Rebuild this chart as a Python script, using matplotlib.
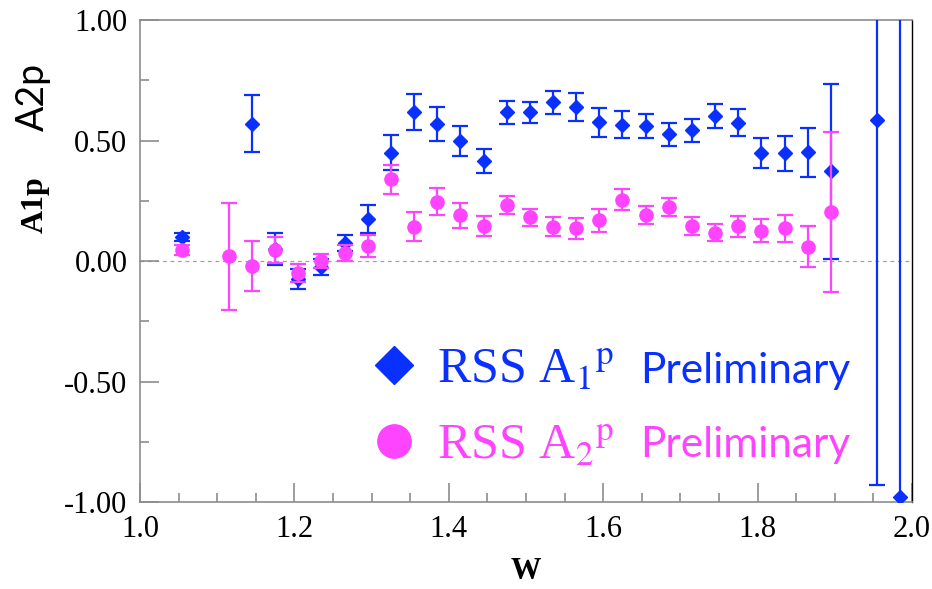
import matplotlib
matplotlib.use('Agg')
import matplotlib.pyplot as plt
from matplotlib.lines import Line2D
from matplotlib.ticker import MultipleLocator, FormatStrFormatter

# A1p points (blue diamonds)
w_a1 = [1.055, 1.145, 1.175, 1.205, 1.235, 1.265, 1.295, 1.325, 1.355, 1.385,
        1.415, 1.445, 1.475, 1.505, 1.535, 1.565, 1.595, 1.625, 1.655, 1.685,
        1.715, 1.745, 1.775, 1.805, 1.835, 1.865, 1.895, 1.955, 1.985]
a1 = [0.10, 0.57, 0.05, -0.075, -0.025, 0.075, 0.175, 0.45, 0.617, 0.57,
      0.497, 0.415, 0.617, 0.617, 0.658, 0.639, 0.576, 0.565, 0.56, 0.525,
      0.542, 0.601, 0.574, 0.45, 0.447, 0.451, 0.372, 0.585, -0.98]
a1_err = [0.015, 0.118, 0.068, 0.043, 0.035, 0.033, 0.058, 0.074, 0.074, 0.071,
          0.062, 0.05, 0.047, 0.043, 0.048, 0.058, 0.061, 0.056, 0.05, 0.047,
          0.049, 0.05, 0.056, 0.062, 0.072, 0.102, 0.362, 1.514, 2.5]

# A2p points (magenta circles)
w_a2 = [1.055, 1.115, 1.145, 1.175, 1.205, 1.235, 1.265, 1.295, 1.325, 1.355,
        1.385, 1.415, 1.445, 1.475, 1.505, 1.535, 1.565, 1.595, 1.625, 1.655,
        1.685, 1.715, 1.745, 1.775, 1.805, 1.835, 1.865, 1.895]
a2 = [0.045, 0.02, -0.02, 0.045, -0.05, 0.0, 0.033, 0.0625, 0.339, 0.143,
      0.246, 0.189, 0.146, 0.232, 0.181, 0.143, 0.135, 0.169, 0.255, 0.192,
      0.225, 0.147, 0.118, 0.144, 0.125, 0.136, 0.06, 0.204]
a2_err = [0.02, 0.222, 0.105, 0.055, 0.037, 0.03, 0.035, 0.047, 0.061, 0.06,
          0.057, 0.05, 0.041, 0.036, 0.035, 0.038, 0.045, 0.047, 0.044, 0.037,
          0.037, 0.0375, 0.037, 0.043, 0.048, 0.056, 0.086, 0.333]

BLUE = '#0a30ff'
PINK = '#ff44ff'
GREY = '#8c8c8c'

plt.rcParams['font.family'] = 'Liberation Serif'
plt.rcParams['axes.unicode_minus'] = False
plt.rcParams['mathtext.fontset'] = 'stix'

fig = plt.figure(figsize=(9.32, 5.89), dpi=100)
ax = fig.add_axes([0.1502, 0.1477, 0.8283, 0.8183])

ax.axhline(0, color='#a0a0a0', lw=0.9, ls=(0, (3, 3)), zorder=1)

ax.errorbar(w_a1, a1, yerr=a1_err, fmt='D', color=BLUE, ms=7.2,
            elinewidth=1.6, capsize=5.5, capthick=1.6, zorder=3)
ax.errorbar(w_a2, a2, yerr=a2_err, fmt='o', color=PINK, ms=9.5,
            elinewidth=1.6, capsize=5.5, capthick=1.6, zorder=4)

ax.set_xlim(1.0, 2.0)
ax.set_ylim(-1.0, 1.0)

ax.xaxis.set_major_locator(MultipleLocator(0.2))
ax.xaxis.set_minor_locator(MultipleLocator(0.05))
ax.yaxis.set_major_locator(MultipleLocator(0.5))
ax.yaxis.set_minor_locator(MultipleLocator(0.25))
ax.xaxis.set_major_formatter(FormatStrFormatter('%.1f'))
ax.yaxis.set_major_formatter(FormatStrFormatter('%.2f'))

ax.tick_params(which='both', direction='in', color=GREY, width=1.2,
               top=False, right=False, labelfontfamily='Liberation Serif')
ax.tick_params(which='major', length=14, labelsize=22, pad=9)
ax.tick_params(which='minor', length=6.5)

for side in ['left', 'bottom', 'top']:
    ax.spines[side].set_color(GREY)
    ax.spines[side].set_linewidth(1.2)
ax.spines['right'].set_color('black')
ax.spines['right'].set_linewidth(1.0)

ax.set_xlabel('W', fontweight='bold', fontsize=22, labelpad=10)

fig.text(0.035, 0.835, 'A2p', family='Lato', fontsize=27, rotation=90,
         ha='center', va='center')
fig.text(0.038, 0.652, 'A1p', fontweight='bold', fontsize=23, rotation=90,
         ha='center', va='center')

# legend
handles = [Line2D([], [], marker='D', color=BLUE, ls='none', ms=19.5),
           Line2D([], [], marker='o', color=PINK, ls='none', ms=24)]
labels = [r'RSS A$_{\mathrm{1}}{}^{\mathrm{p}}$', r'RSS A$_{\mathrm{2}}{}^{\mathrm{p}}$']
leg = ax.legend(handles, labels, loc='center left', bbox_to_anchor=(0.251, 0.195),
                frameon=False, prop={'family': 'Liberation Serif', 'size': 36},
                handletextpad=0.36, labelspacing=0.6, handlelength=1.0,
                borderpad=0.2)
leg.get_texts()[0].set_color(BLUE)
leg.get_texts()[1].set_color(PINK)

ax.text(0.648, 0.247, 'Preliminary', transform=ax.transAxes, color=BLUE,
        family='Lato', fontsize=30.5, ha='left', va='baseline')
ax.text(0.648, 0.093, 'Preliminary', transform=ax.transAxes, color=PINK,
        family='Lato', fontsize=30.5, ha='left', va='baseline')

fig.savefig('out.png', dpi=100)
